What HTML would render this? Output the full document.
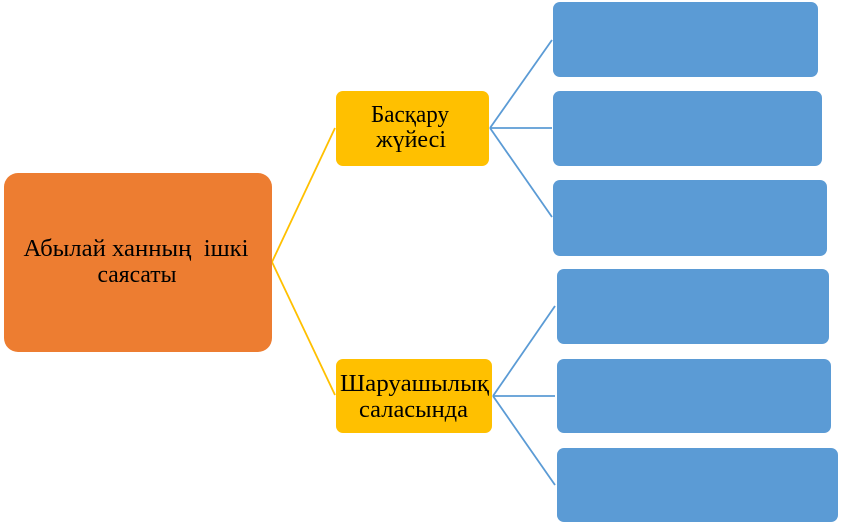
<!DOCTYPE html>
<html><head><meta charset="utf-8"><style>
html,body{margin:0;padding:0;background:#fff;}
svg{display:block;}
</style></head><body>
<svg width="843" height="524" viewBox="0 0 843 524" xmlns="http://www.w3.org/2000/svg">
<g fill="none" stroke="#FFC000" stroke-width="1.8">
<line x1="272" y1="262" x2="335" y2="128"/>
<line x1="272" y1="262" x2="335" y2="395"/>
</g>
<g fill="none" stroke="#5B9BD5" stroke-width="1.8">
<line x1="490" y1="128" x2="552" y2="40"/>
<line x1="490" y1="128" x2="552" y2="128"/>
<line x1="490" y1="128" x2="552" y2="217"/>
<line x1="493" y1="396" x2="555" y2="306"/>
<line x1="493" y1="396" x2="555" y2="396"/>
<line x1="493" y1="396" x2="555" y2="485"/>
</g>
<rect x="4" y="173" width="268" height="179" rx="14" fill="#ED7D31"/>
<rect x="336" y="91" width="153" height="75" rx="7" fill="#FFC000"/>
<rect x="336" y="359" width="156" height="74" rx="7" fill="#FFC000"/>
<g fill="#5B9BD5">
<rect x="553" y="2" width="265" height="75" rx="7"/>
<rect x="553" y="91" width="269" height="75" rx="7"/>
<rect x="553" y="180" width="274" height="76" rx="7"/>
<rect x="557" y="269" width="272" height="75" rx="7"/>
<rect x="557" y="359" width="274" height="74" rx="7"/>
<rect x="557" y="448" width="281" height="74" rx="7"/>
</g>
<g font-family="'Liberation Serif', 'DejaVu Serif', serif" font-size="24.5" fill="#000" text-anchor="middle" lengthAdjust="spacingAndGlyphs">
<text x="136" y="256" textLength="225" lengthAdjust="spacingAndGlyphs" xml:space="preserve">Абылай ханның  ішкі</text>
<text x="137" y="282" textLength="79" lengthAdjust="spacingAndGlyphs">саясаты</text>
<text x="410" y="122" textLength="78" lengthAdjust="spacingAndGlyphs">Басқару</text>
<text x="411" y="147" textLength="70" lengthAdjust="spacingAndGlyphs">жүйесі</text>
<text x="414.5" y="391" textLength="149" lengthAdjust="spacingAndGlyphs">Шаруашылық</text>
<text x="413.5" y="417" textLength="109" lengthAdjust="spacingAndGlyphs">саласында</text>
</g>
</svg>
</body></html>
